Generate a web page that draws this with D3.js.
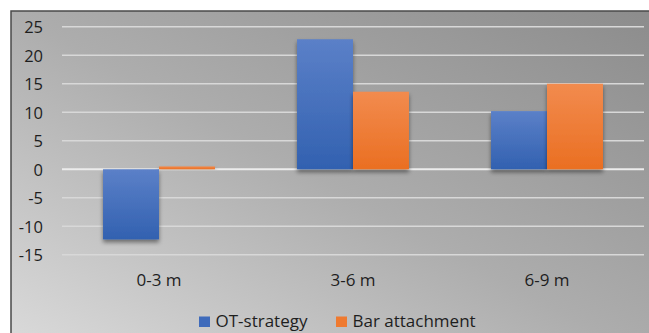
<!DOCTYPE html>
<html><head><meta charset="utf-8">
<script src="https://cdn.jsdelivr.net/npm/d3@7"></script>
<style>html,body{margin:0;padding:0;background:#fff;overflow:hidden}</style>
</head><body>
<svg id="c" width="649" height="333"></svg>
<script>
const categories = ["0-3 m", "3-6 m", "6-9 m"];
const seriesNames = ["OT-strategy", "Bar attachment"];
const otStrategy = [-12.3, 22.8, 10.2];
const barAttachment = [0.5, 13.6, 15.0];
const yTicks = [25, 20, 15, 10, 5, 0, -5, -10, -15];

const W = 649, H = 333;
const svg = d3.select("#c");
const defs = svg.append("defs");
const font = "'Open Sans', 'Noto Sans', sans-serif";

const bg = defs.append("linearGradient").attr("id","bg").attr("x1","0").attr("y1","1").attr("x2","1").attr("y2","0");
bg.append("stop").attr("offset","0").attr("stop-color","#dedede");
bg.append("stop").attr("offset","0.5").attr("stop-color","#adadad");
bg.append("stop").attr("offset","1").attr("stop-color","#8b8b8b");

const gb = defs.append("linearGradient").attr("id","gBlue").attr("x1","0").attr("y1","0").attr("x2","0").attr("y2","1");
gb.append("stop").attr("offset","0").attr("stop-color","#5b80c8");
gb.append("stop").attr("offset","1").attr("stop-color","#3261b0");
const go = defs.append("linearGradient").attr("id","gOrange").attr("x1","0").attr("y1","0").attr("x2","0").attr("y2","1");
go.append("stop").attr("offset","0").attr("stop-color","#f28b4e");
go.append("stop").attr("offset","1").attr("stop-color","#ea6f22");

const sh = defs.append("filter").attr("id","shadow").attr("x","-20%").attr("y","-20%").attr("width","140%").attr("height","140%");
sh.append("feDropShadow").attr("dx",0).attr("dy",3).attr("stdDeviation",2.2).attr("flood-color","#000").attr("flood-opacity",0.45);

// frame (right and bottom edges run off the picture)
svg.append("rect").attr("x",11).attr("y",11).attr("width",660).attr("height",360)
  .attr("fill","url(#bg)").attr("stroke","#4a4a4a").attr("stroke-width",1.5);

const plotL = 62, plotR = 644;
const y = d3.scaleLinear().domain([-15, 25]).range([254.8, 26.7]);
const x0 = d3.scaleBand().domain(categories).range([plotL, plotR]).paddingInner(0.423).paddingOuter(0.2115);
const x1 = d3.scaleBand().domain(seriesNames).range([0, x0.bandwidth()]);

// gridlines
svg.append("g").selectAll("line").data(yTicks).join("line")
  .attr("x1", plotL).attr("x2", plotR)
  .attr("y1", d => y(d)).attr("y2", d => y(d))
  .attr("stroke", d => d === 0 ? "#ececec" : "#d8d8d8")
  .attr("stroke-width", d => d === 0 ? 2 : 1.5);

// y axis labels
const yAxis = d3.axisLeft(y).tickValues(yTicks).tickFormat(d => String(d)).tickSize(0).tickPadding(0);
const ya = svg.append("g").attr("transform","translate(43,0)").call(yAxis);
ya.select(".domain").remove();
ya.selectAll("text").attr("font-family", font).attr("font-size", 16.5).attr("fill","#1e1e1e").attr("dy","0.36em");

// bars
const colors = ["url(#gBlue)", "url(#gOrange)"];
const data = categories.map((c,i) => ({c, vals: [otStrategy[i], barAttachment[i]]}));
const groups = svg.append("g").selectAll("g").data(data).join("g")
  .attr("transform", d => `translate(${x0(d.c)},0)`);
groups.selectAll("rect").data(d => d.vals.map((v,j) => ({v, s: seriesNames[j], j})))
  .join("rect")
  .attr("x", d => x1(d.s))
  .attr("width", x1.bandwidth())
  .attr("y", d => y(Math.max(0, d.v)))
  .attr("height", d => Math.abs(y(d.v) - y(0)))
  .attr("fill", d => colors[d.j])
  .attr("filter","url(#shadow)");

// x axis labels
const xa = svg.append("g").attr("transform","translate(0,280)")
  .call(d3.axisBottom(x0).tickSize(0).tickPadding(0));
xa.select(".domain").remove();
xa.selectAll("text").attr("font-family", font).attr("font-size", 17).attr("fill","#1e1e1e").attr("dy","0.36em");

// legend
const legend = svg.append("g");
const legendItems = [{name: seriesNames[0], color:"#3f6bbb", x:199}, {name: seriesNames[1], color:"#ef7a30", x:336}];
legendItems.forEach(it => {
  legend.append("rect").attr("x", it.x).attr("y", 316.5).attr("width", 11).attr("height", 10.5).attr("fill", it.color);
  legend.append("text").attr("x", it.x + 16.5).attr("y", 327.3)
    .attr("font-family", font).attr("font-size", 17).attr("fill","#1e1e1e").text(it.name);
});
</script>
</body></html>
